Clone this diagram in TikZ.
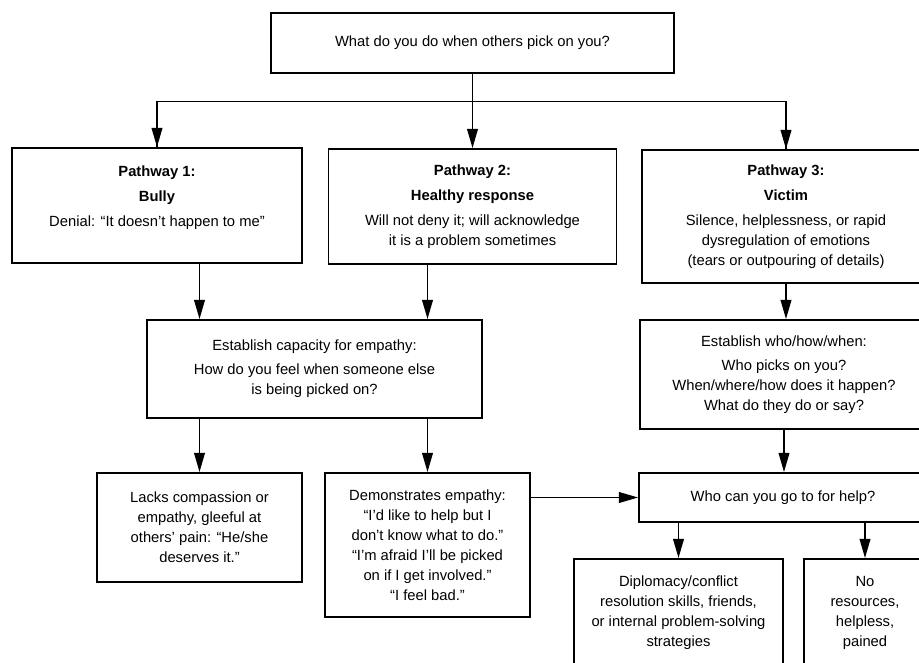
\documentclass[tikz,border=0pt]{standalone}
\usepackage{fontspec}
\setmainfont{Liberation Sans}
\usetikzlibrary{arrows.meta}

\tikzstyle{every node}=[align=center, font=\fontsize{10.5pt}{14.2pt}\selectfont, inner sep=1pt]
\tikzstyle{box}=[draw, line width=1.4pt]
\tikzstyle{conn}=[line width=1.05pt]
\tikzstyle{arrow}=[conn, -{Triangle[length=4.8mm, width=2.7mm]}]

\begin{document}
\begin{tikzpicture}[x=0.25mm, y=-0.25mm]
  \useasboundingbox (0,0) rectangle (919,663);
  \clip (0,0) rectangle (919,663);

  \node[box, minimum width=403*0.25mm, minimum height=60*0.25mm] (top) at (472.5,42.7)
    {What do you do when others pick on you?};

  % three pathways
  \node[box, minimum width=290*0.25mm, minimum height=115*0.25mm] (p1) at (157,205.5)
    {\textbf{Pathway 1:}\\[3.5pt] \textbf{Bully}\\[3.5pt] Denial: ``It doesn't happen to me''\\[-1pt]~};
  \node[box, minimum width=288*0.25mm, minimum height=115*0.25mm] (p2) at (472.5,206.5)
    {\textbf{Pathway 2:}\\[3.5pt] \textbf{Healthy response}\\[3.5pt] Will not deny it; will acknowledge\\ it is a problem sometimes};
  \node[box, minimum width=288*0.25mm, minimum height=133*0.25mm] (p3) at (786,216.5)
    {\textbf{Pathway 3:}\\[3.5pt] \textbf{Victim}\\[3.5pt] Silence, helplessness, or rapid\\ dysregulation of emotions\\ (tears or outpouring of details)};

  \node[box, minimum width=335*0.25mm, minimum height=98*0.25mm] (emp) at (314.5,369)
    {Establish capacity for empathy:\\[3pt] How do you feel when someone else\\ is being picked on?};
  \node[box, minimum width=288*0.25mm, minimum height=109*0.25mm] (who) at (784,374.5)
    {Establish who/how/when:\\[3pt] Who picks on you?\\ When/where/how does it happen?\\ What do they do or say?};

  \node[box, minimum width=205*0.25mm, minimum height=109*0.25mm] (lacks) at (199.5,527.5)
    {Lacks compassion or\\ empathy, gleeful at\\ others' pain: ``He/she\\ deserves it.''};
  \node[box, minimum width=205*0.25mm, minimum height=144*0.25mm] (demo) at (427.5,545)
    {Demonstrates empathy:\\ ``I'd like to help but I\\ don't know what to do.''\\ ``I'm afraid I'll be picked\\ on if I get involved.''\\ ``I feel bad.''};
  \node[box, minimum width=288*0.25mm, minimum height=49*0.25mm] (help) at (783,497.5)
    {Who can you go to for help?};

  \node[box, minimum width=209*0.25mm, minimum height=108*0.25mm] (dipl) at (678.5,613)
    {Diplomacy/conflict\\ resolution skills, friends,\\ or internal problem-solving\\ strategies};
  \node[box, minimum width=122*0.25mm, minimum height=108*0.25mm] (nores) at (865,613)
    {No\\ resources,\\ helpless,\\ pained};

  % connectors
  \coordinate (split) at (472.5,101.7);
  \draw[conn] (top) -- (split);
  \draw[conn] (split) -| (p1.north);
  \draw[conn] (split) -| (p3.north);
  \draw[arrow] (split -| p1.north) -- (p1.north);
  \draw[arrow] (split) -- (p2.north);
  \draw[arrow] (split -| p3.north) -- (p3.north);

  \draw[arrow] (p1.south -| lacks.north) -- (emp.north -| lacks.north);
  \draw[arrow] (p2.south -| demo.north) -- (emp.north -| demo.north);
  \draw[arrow] (emp.south -| lacks.north) -- (lacks.north);
  \draw[arrow] (emp.south -| demo.north) -- (demo.north);

  \draw[arrow] (p3.south) -- (p3.south |- who.north);
  \draw[arrow] (who.south) -- (who.south |- help.north);
  \draw[arrow] (help.west -| demo.east) -- (help.west);
  \draw[arrow] (help.south -| dipl.north) -- (dipl.north);
  \draw[arrow] (help.south -| nores.north) -- (nores.north);
\end{tikzpicture}
\end{document}
